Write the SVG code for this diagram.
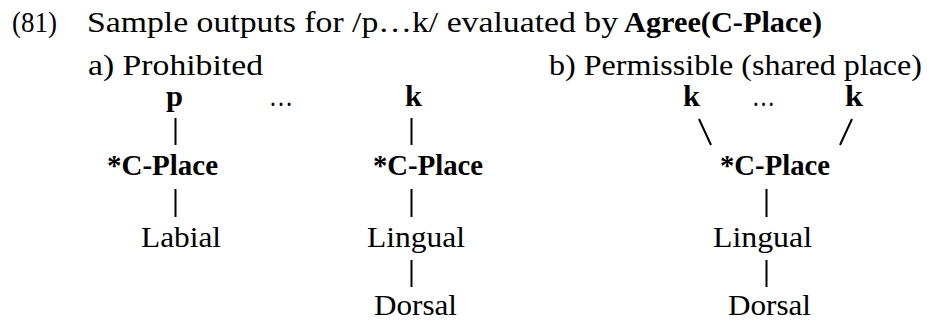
<svg xmlns="http://www.w3.org/2000/svg" width="927" height="320" viewBox="0 0 927 320">
<style>
text{font-family:"Liberation Serif","Times New Roman",serif;font-size:30px;fill:#000}
.b{font-weight:bold}
.c line{stroke:#000;stroke-width:2}
</style>
<rect width="927" height="320" fill="#fff"/>
<g id="title">
<text x="12" y="32" textLength="45" lengthAdjust="spacingAndGlyphs">(81)</text>
<text x="87" y="32" textLength="531" lengthAdjust="spacingAndGlyphs">Sample outputs for /p…k/ evaluated by</text>
<text class="b" x="624" y="32" textLength="198" lengthAdjust="spacingAndGlyphs">Agree(C-Place)</text>
</g>
<g id="label-a"><text x="88" y="75" textLength="175" lengthAdjust="spacingAndGlyphs">a) Prohibited</text></g>
<g id="label-b"><text x="549" y="75" textLength="373" lengthAdjust="spacingAndGlyphs">b) Permissible (shared place)</text></g>
<g id="a-p"><text class="b" x="166" y="106" textLength="17" lengthAdjust="spacingAndGlyphs">p</text></g>
<g id="a-dots"><text x="269" y="106" textLength="24" lengthAdjust="spacingAndGlyphs">…</text></g>
<g id="a-k"><text class="b" x="405" y="106" textLength="17" lengthAdjust="spacingAndGlyphs">k</text></g>
<g id="a-cplace1"><text class="b" x="107" y="175" textLength="111" lengthAdjust="spacingAndGlyphs">*C-Place</text></g>
<g id="a-cplace2"><text class="b" x="373" y="175" textLength="110" lengthAdjust="spacingAndGlyphs">*C-Place</text></g>
<g id="a-labial"><text x="141" y="247" textLength="80" lengthAdjust="spacingAndGlyphs">Labial</text></g>
<g id="a-lingual"><text x="367" y="247" textLength="98" lengthAdjust="spacingAndGlyphs">Lingual</text></g>
<g id="a-dorsal"><text x="374" y="315" textLength="83" lengthAdjust="spacingAndGlyphs">Dorsal</text></g>
<g id="b-k1"><text class="b" x="683" y="106" textLength="17" lengthAdjust="spacingAndGlyphs">k</text></g>
<g id="b-dots"><text x="752" y="106" textLength="23" lengthAdjust="spacingAndGlyphs">…</text></g>
<g id="b-k2"><text class="b" x="845" y="106" textLength="18" lengthAdjust="spacingAndGlyphs">k</text></g>
<g id="b-cplace"><text class="b" x="720" y="175" textLength="110" lengthAdjust="spacingAndGlyphs">*C-Place</text></g>
<g id="b-lingual"><text x="713" y="247" textLength="99" lengthAdjust="spacingAndGlyphs">Lingual</text></g>
<g id="b-dorsal"><text x="728" y="315" textLength="83" lengthAdjust="spacingAndGlyphs">Dorsal</text></g>
<g id="connectors" class="c">
<line x1="175.5" y1="118" x2="175.5" y2="145"/>
<line x1="175.5" y1="189" x2="175.5" y2="217"/>
<line x1="411.5" y1="118" x2="411.5" y2="145"/>
<line x1="411.5" y1="189" x2="411.5" y2="217"/>
<line x1="411.5" y1="260" x2="411.5" y2="287"/>
<line x1="699" y1="119" x2="711" y2="145"/>
<line x1="852" y1="119" x2="840" y2="145"/>
<line x1="766.5" y1="189" x2="766.5" y2="217"/>
<line x1="766.5" y1="260" x2="766.5" y2="287"/>
</g>
</svg>
